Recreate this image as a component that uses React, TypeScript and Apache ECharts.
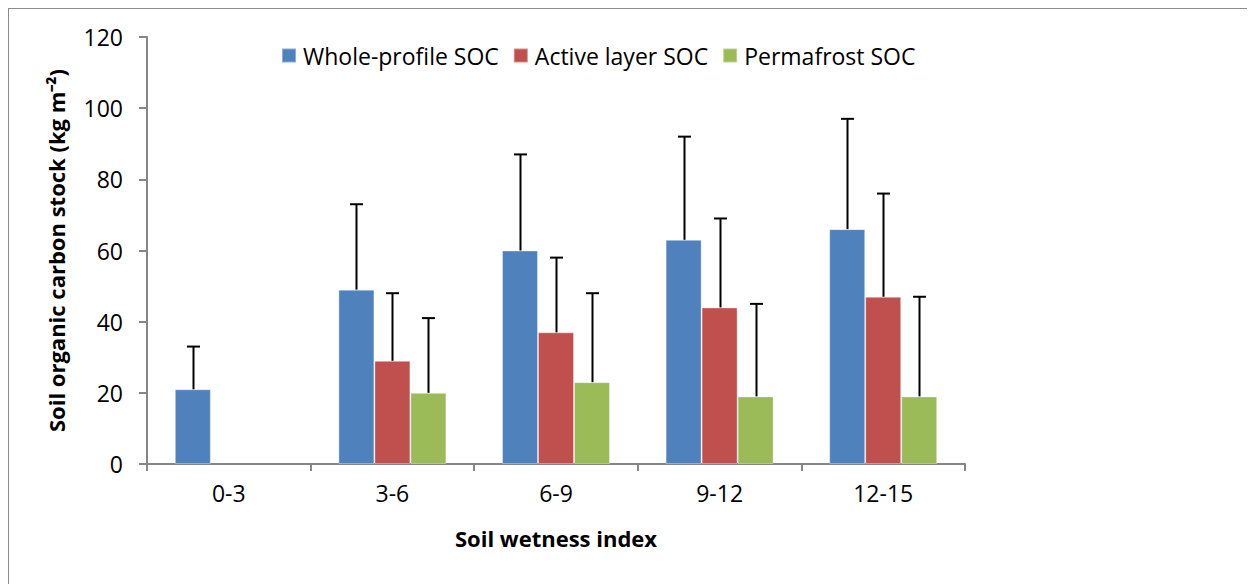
import React, { useEffect, useRef } from "react";
import * as echarts from "echarts";

const categories = ["0-3", "3-6", "6-9", "9-12", "12-15"];
const wholeProfile = [21, 49, 60, 63, 66];
const wholeProfileErrTop = [33, 73, 87, 92, 97];
const activeLayer = [null, 29, 37, 44, 47];
const activeLayerErrTop = [null, 48, 58, 69, 76];
const permafrost = [null, 20, 23, 19, 19];
const permafrostErrTop = [null, 41, 48, 45, 47];
const seriesNames = ["Whole-profile SOC", "Active layer SOC", "Permafrost SOC"];
const colors = ["#4F81BD", "#C0504D", "#9BBB59"];
const FONT = "'Open Sans', sans-serif";
const CAT_GAP = 0.34;

function errorSeries(idx: number, vals: (number | null)[], tops: (number | null)[]) {
  const data = vals
    .map((v, i) => (v == null || tops[i] == null ? null : [i, v, tops[i]]))
    .filter((d) => d !== null);
  return {
    type: "custom",
    name: seriesNames[idx] + " error",
    z: 5,
    silent: true,
    data,
    renderItem: (params: any, api: any) => {
      const cat = api.value(0);
      const base = api.coord([cat, api.value(1)]);
      const top = api.coord([cat, api.value(2)]);
      const bandW = api.size([1, 0])[0];
      const barW = (bandW * (1 - CAT_GAP)) / 3;
      const x = Math.round(base[0] + (idx - 1) * barW) + 0.5;
      const half = 6.5;
      const style = { stroke: "#000", lineWidth: 2 };
      return {
        type: "group",
        children: [
          { type: "line", shape: { x1: x, y1: base[1], x2: x, y2: top[1] }, style },
          { type: "line", shape: { x1: x - half, y1: top[1], x2: x + half, y2: top[1] }, style },
        ],
      };
    },
  };
}

export default function App() {
  const ref = useRef<HTMLDivElement>(null);
  useEffect(() => {
    if (!ref.current) return;
    const chart = echarts.init(ref.current, null, { renderer: "svg" });
    const barSeries = [wholeProfile, activeLayer, permafrost].map((d, i) => ({
      type: "bar",
      name: seriesNames[i],
      data: d,
      barGap: "0%",
      barCategoryGap: CAT_GAP * 100 + "%",
      itemStyle: { color: colors[i], borderColor: "rgba(255,255,255,0.35)", borderWidth: 1 },
    }));
    chart.setOption({
      animation: false,
      backgroundColor: "#fff",
      textStyle: { fontFamily: FONT },
      graphic: [
        { type: "line", shape: { x1: 0.5, y1: 0, x2: 0.5, y2: 576 }, style: { stroke: "#8c8c8c", lineWidth: 1 } },
        { type: "line", shape: { x1: 0, y1: 0.5, x2: 1247, y2: 0.5 }, style: { stroke: "#8c8c8c", lineWidth: 1 } },
      ],
      legend: {
        top: 31,
        left: 268,
        itemWidth: 14,
        itemHeight: 14,
        itemGap: 14,
        icon: "rect",
        data: seriesNames,
        textStyle: { fontFamily: FONT, fontSize: 23, color: "#000", padding: [0, 0, 0, 2] },
      },
      grid: { left: 139, top: 29, right: 290, bottom: 120, containLabel: false },
      xAxis: {
        type: "category",
        data: categories,
        name: "Soil wetness index",
        nameLocation: "middle",
        nameGap: 63,
        nameTextStyle: { fontFamily: FONT, fontSize: 22, fontWeight: "bold", color: "#000" },
        axisLine: { lineStyle: { color: "#868686", width: 2 } },
        axisTick: { show: true, length: 7, lineStyle: { color: "#868686", width: 2 } },
        axisLabel: { fontFamily: FONT, fontSize: 23, color: "#000", margin: 17 },
      },
      yAxis: {
        type: "value",
        min: 0,
        max: 120,
        interval: 20,
        name: "Soil organic carbon stock (kg m⁻²)",
        nameLocation: "middle",
        nameGap: 80,
        nameRotate: 90,
        nameTextStyle: { fontFamily: FONT, fontSize: 22, fontWeight: "bold", color: "#000" },
        splitLine: { show: false },
        axisLine: { show: true, lineStyle: { color: "#868686", width: 2 } },
        axisTick: { show: true, length: 8, lineStyle: { color: "#868686", width: 2 } },
        axisLabel: { fontFamily: FONT, fontSize: 23, color: "#000", margin: 24 },
      },
      series: [
        ...barSeries,
        errorSeries(0, wholeProfile, wholeProfileErrTop),
        errorSeries(1, activeLayer, activeLayerErrTop),
        errorSeries(2, permafrost, permafrostErrTop),
      ],
    });
    return () => chart.dispose();
  }, []);
  return <div ref={ref} style={{ width: 1247, height: 576 }} />;
}
